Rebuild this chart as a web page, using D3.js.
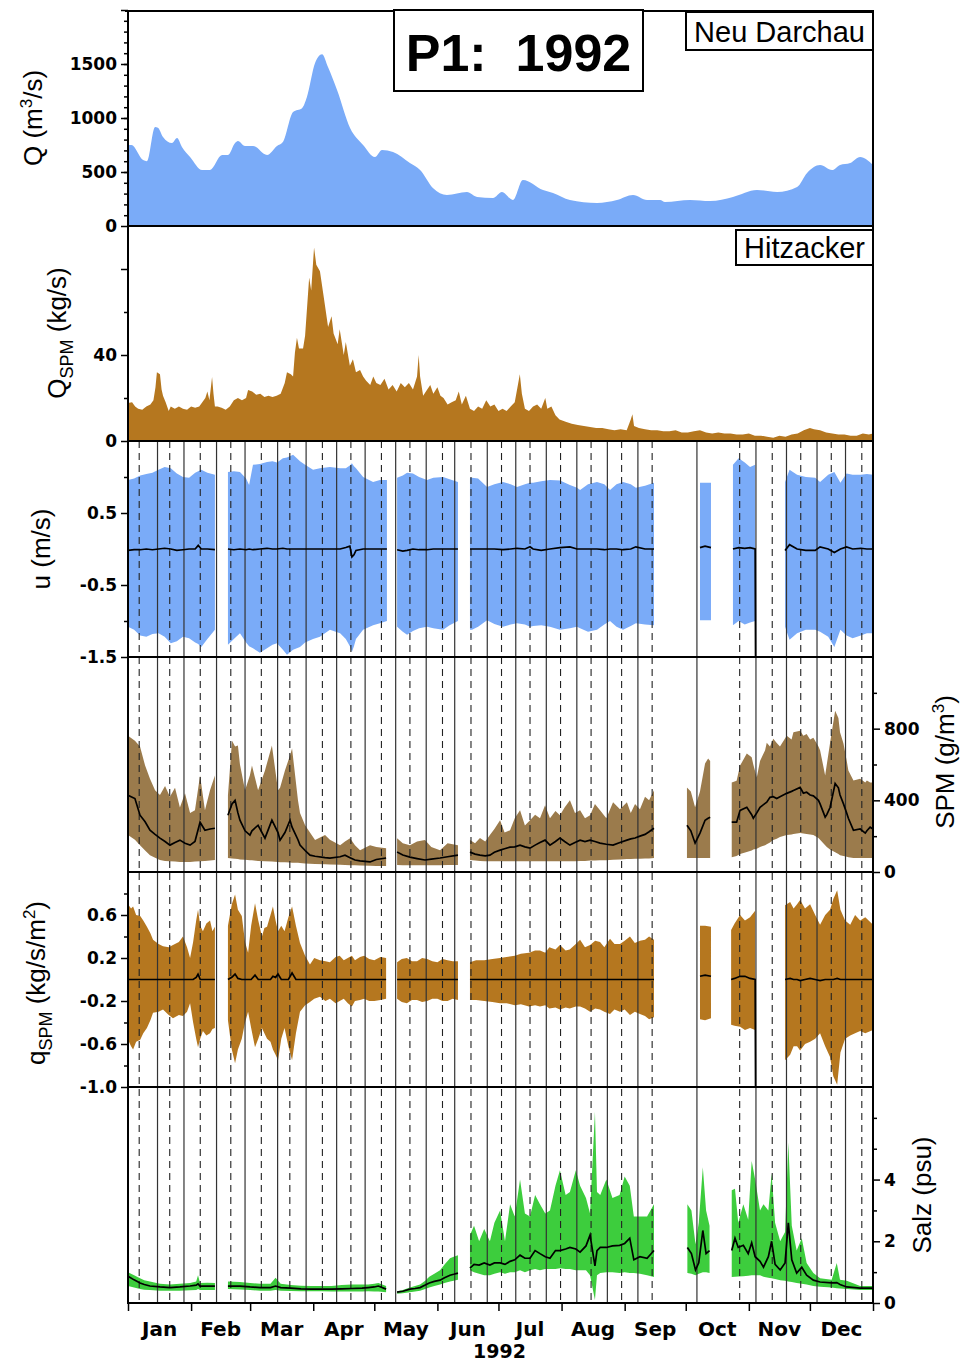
<!DOCTYPE html>
<html><head><meta charset="utf-8">
<script src="https://cdn.jsdelivr.net/npm/d3@7/dist/d3.min.js"></script>
<style>body{margin:0;background:#fff}svg{display:block}text{fill:#000}</style>
</head><body><svg id="c" width="963" height="1363" font-family="'Liberation Sans',Arial,Helvetica,sans-serif"></svg>
<script>
// ---------- DATA (day of year 1992, 0 = 1 Jan) ----------
const months = ["Jan","Feb","Mar","Apr","May","Jun","Jul","Aug","Sep","Oct","Nov","Dec"];
const monthStarts = [0,31,60,91,121,152,182,213,244,274,305,335,366];
const yearLabel = "1992";
// spring tides (dashed) and neap tides (solid)
const springDays = [5.5,20.5,35.5,50.5,65.5,79.5,95.5,109.5,124.5,138.5,154.5,168.5,183.5,197.5,212.5,227.5,242.5,257.5,300.5,316.5,330.5,345.5,360.5];
const neapDays = [14.5,27.5,43.5,57.5,73.5,87.5,102.5,116.5,131.5,146.5,160.5,176.5,190.5,205.5,220.5,235.5,250.5,279.5,308.5,323.5,338.5,352.5];

// Q Neu Darchau (m3/s)
const qDays = [0,1.7,7.4,9.3,13.3,14.7,17.2,21.6,24.1,26.5,30.5,36.4,40.3,46.2,49.1,52.6,54,57.5,61.4,68.3,73.2,76.1,81.1,85.5,87.9,91.9,95.3,98.3,102.7,109.1,115.5,121.3,124.8,130.2,138.5,143.5,149.8,156.7,166.5,171.5,179.3,183.7,189.1,194,203.9,208.8,217.1,230.4,240.2,248.1,255,261.4,263.8,276.1,286,297.2,309,318.9,328.7,333.6,340,345.9,349.8,354.8,359.7,366];
const qVals = [750,750,611,600,917,910,824,768,815,732,639,518,519,657,657,768,787,741,741,657,741,778,1056,1090,1194,1509,1590,1470,1259,907,750,639,704,685,583,518,352,287,315,269,259,315,241,426,333,306,241,213,241,287,241,241,222,241,231,269,333,315,361,491,565,518,565,583,639,565];

// Q_SPM Hitzacker (kg/s): [day, value]
const qspm = [[0,17.7],[2,18],[3.5,16],[5,15],[7,14.5],[9,16],[11,17],[12.5,19],[13.5,25],[14.2,32],[15.7,31],[16.5,24],[17.2,21],[18.5,18],[20,14],[21,16],[23,15],[25,16],[27,15],[29,14.5],[31,16],[33,15.5],[35,16],[36.5,18],[38,20],[39,23],[40,19],[41.3,29.8],[42,22],[42.7,16],[44,16],[46,15.5],[48,14.5],[50,16],[52,19],[54,20],[56,19],[58,20],[59,23.7],[61,23],[63,21.5],[65,22],[67,20.5],[69,21],[71,20.5],[73,21],[75,22],[77,27],[78.1,32],[80,31],[81.1,30],[82,41],[83,48],[84,43],[86,43],[87,49],[89,76],[90,70],[91.4,90],[92.5,82],[94.3,79],[96,68],[98.3,53],[100,58],[101,50],[103,45],[104,52],[106,40],[107,46],[109,35],[110.5,38],[112,32],[114,33],[115.5,30],[117,28],[119,26],[120.5,30],[122,27],[124,26],[126,29],[128,24],[130,26],[132,23],[134,27],[136,25],[138,27],[140,24],[142,30],[142.8,40],[143.5,30],[145,21],[147,24],[148.5,26],[150,22],[152,25],[153.5,21],[155,20],[157,17],[159,18],[161,19],[162.5,23],[164,17],[166,21],[168,15],[170,14],[172,16],[174,15],[176,19],[178,16],[180,17],[182,14],[184,15],[186,14],[188,16],[190,18],[192.5,31],[193.5,22],[195,15],[197,14],[199,16],[201,17],[203,15],[205,20],[206,15],[208,16],[210,12],[212,10],[215,9],[218,8],[221,7.5],[224,7],[227,6.5],[230,6],[233,6],[236,5.5],[239,5],[242,5.5],[245,5],[247,10],[247.8,12.5],[248.6,7],[251,6],[254,5.5],[257,5],[260,5],[263,4.5],[266,4.5],[269,5],[272,4],[275,4],[278,4.5],[281,5],[284,4],[287,3.5],[290,4],[293,3.5],[296,3.5],[299,3],[302,3],[305,3.5],[308,2.5],[311,2.5],[314,2],[317,1.5],[320,2.5],[323,2],[326,3],[329,3.5],[332,5],[335,6],[337,5.5],[340,5],[343,4],[346,3.5],[349,3],[352,3],[355,2.5],[358,2.5],[361,3.5],[364,3],[366,3.5]];

// u (m/s): [day, min, mean, max], null = data gap
const uData = [[0,-1.08,-0.02,0.96],[3,-1.12,-0.01,0.98],[6,-1.20,-0.01,1.02],[9,-1.22,0,1.04],[12,-1.18,-0.01,1.06],[15,-1.17,0,1.10],[18,-1.22,0.01,1.14],[21,-1.31,0,1.12],[24,-1.28,-0.02,1.05],[27,-1.22,-0.01,1.00],[30,-1.24,0,0.99],[33,-1.30,0,1.06],[34.5,-1.32,0.05,1.08],[36,-1.36,0,1.10],[39,-1.25,0,1.06],[42.7,-1.12,-0.01,1.03],null,
[49.1,-1.33,0,1.07],[52,-1.25,-0.01,1.08],[55,-1.17,0,1.07],[58,-1.30,-0.01,0.98],[59.5,-1.35,0,0.89],[61.4,-1.38,-0.01,1.17],[64.8,-1.44,0,1.18],[68.3,-1.38,0.01,1.21],[71,-1.33,0,1.22],[73.2,-1.31,0,1.20],[76.1,-1.40,0.01,1.26],[78.1,-1.47,0,1.27],[81.1,-1.40,0,1.31],[84.5,-1.36,0,1.22],[87,-1.30,0,1.17],[90.9,-1.25,0,1.10],[94.3,-1.22,0,1.12],[99.2,-1.12,0,1.14],[104.2,-1.17,0,1.12],[107,-1.25,0.02,1.12],[109,-1.35,0.04,1.16],[110,-1.43,-0.11,1.19],[111,-1.35,-0.08,1.15],[112,-1.25,-0.02,1.12],[115.5,-1.12,0,1.00],[120.4,-1.06,0,0.93],[123.8,-1.03,0,0.96],[127.2,-1.00,0,0.96],null,
[132.2,-1.08,-0.01,0.99],[135,-1.15,-0.03,1.02],[137.1,-1.19,-0.02,1.06],[140,-1.14,0,1.05],[143,-1.10,-0.01,1.00],[146.9,-1.08,-0.01,0.96],[150,-1.10,0,0.99],[154.8,-1.12,0,1.00],[158,-1.06,0,0.97],[162.1,-1.00,0,0.93],null,
[168,-1.12,0,0.99],[169,-1.12,0,0.99],[172,-1.08,0,0.98],[176.4,-0.99,0,0.86],[180,-1.04,0,0.90],[184.2,-1.08,-0.01,0.93],[188,-1.05,0,0.90],[191.1,-1.03,0.01,0.86],[195,-1.05,0,0.90],[197.5,-1.08,0.03,0.92],[199,-1.07,0,0.92],[203,-1.06,-0.02,0.94],[207.3,-1.08,0,0.96],[212.2,-1.12,0.02,0.95],[217.1,-1.10,0.03,0.89],[220.6,-1.08,0,0.85],[222.1,-1.10,0,0.82],[226,-1.15,0,0.90],[230.4,-1.12,0,0.93],[234,-1.05,-0.01,0.90],[236.8,-1.00,0,0.82],[240,-1.08,0,0.90],[243.2,-1.12,-0.01,0.93],[247,-1.07,0,0.90],[249.5,-1.03,0.03,0.85],[254,-1.05,0,0.88],[258.4,-1.06,0,0.92],null,
[281,-0.99,0.02,0.92],[283.5,-0.99,0.04,0.92],[286.4,-0.99,0.02,0.92],null,
[297.2,-1.06,0,1.17],[300,-1.00,0.02,1.26],[303,-1.05,0.01,1.20],[305.6,-1.02,0.02,1.14],[308.1,-1.00,0,1.17],[308.3,null,-1.5,null],null,
[322.8,-1.08,-0.02,0.93],[325,-1.26,0.06,1.10],[328.7,-1.17,0,1.03],[333,-1.12,-0.02,1.00],[337.6,-1.12,-0.02,0.99],[340,-1.15,0.03,0.93],[344,-1.22,0,1.03],[347,-1.36,-0.05,1.07],[350,-1.12,0,0.92],[353,-1.20,0.03,1.05],[356,-1.24,0,1.03],[360,-1.20,0.01,1.03],[363,-1.17,0,1.04],[366,-1.17,0,1.03]];

// SPM (g/m3): [day, min, mean, max]
const spmData = [[0,206,428,761],[3.4,180,410,733],[5.9,150,317,700],[8.4,120,280,594],[10.8,94,233,520],[13.3,80,210,456],[15.7,67,189,430],[18.2,62,170,480],[20.6,60,150,420],[23.1,58,165,470],[25.5,56,178,360],[28,56,160,440],[30.5,56,150,330],[32.9,58,170,344],[35.4,60,278,539],[37.8,62,233,344],[40.3,64,240,456],[42.7,67,244,539],null,
[49.1,78,317,428],[51.1,76,380,733],[52.6,74,400,700],[54,72,330,706],[55,70,289,600],[57.5,68,230,456],[59.9,66,206,540],[60.9,65,230,594],[63.9,62,261,456],[67.3,60,189,567],[70.7,58,289,706],[73.7,56,220,456],[74.7,55,178,470],[77.1,54,220,567],[79.6,53,289,650],[80.6,52,250,689],[83.5,51,180,400],[84.5,50,150,330],[87,48,120,261],[89.4,46,94,220],[91.9,45,88,178],[96.8,43,80,206],[99.2,42,78,180],[104.2,40,85,150],[106.6,39,94,170],[109.1,38,80,189],[111.5,37,67,150],[114,36,62,122],[118.9,35,56,150],[122,34,70,140],[126.8,33,78,133],null,
[132.2,39,111,189],[135,38,95,160],[138.5,38,83,150],[142,37,75,170],[145.9,37,67,178],[149,38,72,140],[153.3,38,78,122],[157,39,85,160],[162.1,39,94,150],null,
[168,67,111,178],[170.5,64,100,160],[172.9,62,94,190],[175.5,60,90,170],[177.8,60,94,206],[180,60,110,240],[182.8,60,122,289],[185,60,130,220],[187.7,60,139,233],[190,60,140,300],[192.6,60,150,344],[195,60,140,260],[197.5,60,133,289],[200,60,150,320],[202.4,60,165,300],[204.9,60,178,372],[207.3,60,150,300],[210,60,170,340],[212.2,60,189,317],[214.5,60,170,360],[217.1,60,150,400],[219.6,60,165,330],[222.1,62,178,344],[224.5,62,170,300],[227,64,178,317],[229.4,64,170,380],[231.9,66,161,344],[235,66,155,300],[238.3,68,150,389],[241.7,70,165,350],[245.1,72,178,389],[247,72,185,330],[249.1,74,190,380],[251.5,74,200,350],[254,76,210,420],[256,76,225,400],[258.4,78,244,456],null,
[274.6,78,261,472],[276.5,78,230,450],[278.6,78,161,361],[281,78,217,450],[283.5,78,289,606],[285,78,300,633],[286,78,306,620],null,
[296.6,83,278,500],[299,90,278,510],[300.7,100,344,594],[304,111,361,661],[306.4,120,320,640],[307.2,125,300,600],[308.9,130,330,528],[310.5,139,361,620],[313,150,383,680],[313.8,155,390,722],[315.4,165,417,700],[317,178,420,744],[318.7,185,410,720],[320.3,195,420,700],[323.6,206,439,761],[326,210,450,740],[326.9,212,455,780],[330.2,217,472,789],[331.8,215,440,760],[333.4,212,445,770],[335.1,210,430,740],[336.7,206,425,750],[339.2,190,400,700],[340,180,380,680],[342.5,150,306,539],[343.3,139,320,600],[344.9,125,360,720],[347.4,110,494,900],[349,100,470,860],[349.8,94,430,780],[351.5,90,380,717],[353.1,85,328,620],[353.9,82,300,567],[356.4,78,233,511],[359.7,78,240,520],[362.2,78,217,500],[363,78,230,511],[364.6,78,250,500],[366,78,240,500]];

// q_SPM (kg/s/m2): [day, min, mean, max]
const qsData = [[0,-0.56,0,0.70],[1.5,-0.62,0,0.66],[2.5,-0.65,0,0.68],[4,-0.58,0,0.60],[6,-0.56,0,0.59],[7.5,-0.50,0,0.55],[9.3,-0.45,0,0.49],[11,-0.38,0,0.43],[12.3,-0.31,0,0.37],[15,-0.30,0,0.33],[17.2,-0.28,0,0.31],[20,-0.33,0,0.30],[22.1,-0.36,0,0.32],[25,-0.33,0,0.35],[27,-0.34,0,0.40],[29,-0.30,0,0.30],[30.5,-0.22,0,0.20],[32,-0.40,0,0.35],[33.5,-0.55,0.02,0.55],[34.4,-0.63,0.05,0.65],[35.5,-0.55,0,0.50],[36.8,-0.48,0,0.45],[38.5,-0.52,0,0.52],[40.3,-0.50,0,0.55],[41.5,-0.46,0,0.45],[42.7,-0.45,0,0.49],null,
[49.1,-0.38,0,0.50],[51,-0.65,0.02,0.70],[52.6,-0.78,0.05,0.79],[54,-0.65,0.01,0.65],[55.9,-0.55,0,0.59],[57.5,-0.40,0,0.35],[59,-0.30,0,0.25],[60.5,-0.45,0,0.50],[62.4,-0.63,0.04,0.71],[64,-0.55,0,0.55],[65.8,-0.45,0,0.40],[67,-0.50,0,0.48],[68.3,-0.55,0,0.49],[70,-0.58,0,0.60],[71.2,-0.65,0.03,0.68],[72.5,-0.70,0.02,0.55],[73.7,-0.75,0.05,0.45],[75.3,-0.55,0,0.50],[76.9,-0.45,0,0.45],[78.8,-0.62,0,0.58],[80.6,-0.75,0.06,0.68],[82.5,-0.50,0,0.50],[84.5,-0.30,0,0.34],[87,-0.24,0,0.22],[89.4,-0.21,0,0.14],[91.5,-0.18,0,0.20],[94.3,-0.16,0,0.18],[97,-0.20,0,0.17],[99.2,-0.18,0,0.16],[102,-0.22,0,0.21],[104,-0.20,0,0.22],[106,-0.18,0,0.18],[108,-0.22,0,0.20],[110,-0.25,0,0.22],[111.5,-0.20,0,0.18],[114,-0.19,0,0.21],[116,-0.18,0,0.22],[118.5,-0.20,0,0.19],[121,-0.20,0,0.18],[124,-0.19,0,0.21],[126.8,-0.18,0,0.20],null,
[132.2,-0.18,0,0.16],[134.5,-0.21,0,0.19],[137,-0.22,0,0.20],[139.5,-0.19,0,0.17],[142,-0.19,0,0.17],[144.5,-0.21,0,0.20],[147,-0.20,0,0.19],[149.5,-0.18,0,0.17],[152,-0.18,0,0.16],[154.5,-0.20,0,0.19],[157,-0.20,0,0.18],[159.5,-0.18,0,0.17],[162.1,-0.19,0,0.17],null,
[168,-0.19,0,0.16],[171,-0.19,0,0.18],[175,-0.20,0,0.18],[179,-0.21,0,0.19],[182.8,-0.22,0,0.20],[186,-0.22,0,0.21],[190,-0.24,0,0.22],[193,-0.23,0,0.24],[197,-0.25,0,0.25],[200,-0.24,0,0.27],[202.4,-0.25,0,0.27],[205,-0.24,0,0.25],[207,-0.27,0,0.30],[210,-0.26,0,0.28],[212.2,-0.28,0,0.32],[215,-0.26,0,0.27],[217,-0.27,0,0.28],[220,-0.25,0,0.33],[222.1,-0.25,0,0.37],[224.5,-0.27,0,0.30],[227,-0.30,0,0.32],[229.5,-0.27,0,0.36],[231.9,-0.28,0,0.35],[234,-0.30,0,0.30],[236.8,-0.32,0,0.38],[239,-0.28,0,0.33],[241.7,-0.30,0,0.33],[244,-0.28,0,0.36],[246.6,-0.33,0,0.40],[249,-0.30,0,0.34],[251.5,-0.32,0,0.36],[254,-0.34,0,0.37],[256,-0.37,0,0.40],[258.4,-0.35,0,0.37],null,
[281,-0.37,0.03,0.50],[283.5,-0.38,0.04,0.50],[286.4,-0.36,0.03,0.49],null,
[296.3,-0.42,0,0.46],[298,-0.43,0.01,0.52],[300.7,-0.44,0.03,0.60],[303.1,-0.47,0.03,0.55],[305.6,-0.45,0.01,0.58],[308.1,-0.47,0,0.64],[308.3,null,-1.0,null],null,
[322.8,-0.75,0,0.69],[325.3,-0.70,0.01,0.72],[327,-0.62,0,0.66],[328.7,-0.62,0,0.70],[330.2,-0.66,-0.01,0.74],[332.6,-0.60,0,0.66],[335.1,-0.58,0.01,0.70],[337.6,-0.55,0,0.60],[340,-0.50,-0.01,0.51],[342.5,-0.62,0,0.60],[344.9,-0.72,0,0.65],[346.5,-0.90,0,0.75],[348.4,-0.98,0.01,0.83],[350,-0.68,0,0.65],[352.3,-0.55,0,0.55],[354.8,-0.52,0,0.51],[357.2,-0.50,0,0.60],[359.7,-0.48,0,0.55],[362.2,-0.50,0,0.58],[366,-0.47,0,0.51]];

// Salz (psu): [day, min, mean, max]
const salzData = [[0,0.55,0.87,1.0],[3,0.50,0.75,0.90],[5.9,0.45,0.65,0.80],[8,0.43,0.6,0.74],[10.8,0.42,0.55,0.70],[15.7,0.40,0.52,0.62],[20.6,0.40,0.50,0.60],[25.5,0.40,0.52,0.62],[30.5,0.41,0.55,0.65],[33.5,0.42,0.58,0.70],[34.4,0.45,0.62,0.90],[35.4,0.42,0.55,0.65],[39,0.42,0.55,0.66],[42.7,0.42,0.55,0.65],null,
[49.1,0.45,0.55,0.70],[55,0.44,0.55,0.68],[60,0.42,0.52,0.65],[65,0.40,0.50,0.62],[70,0.40,0.50,0.62],[72.5,0.42,0.55,0.82],[75,0.40,0.50,0.62],[80,0.39,0.48,0.58],[85,0.38,0.46,0.56],[90,0.38,0.45,0.55],[95,0.38,0.45,0.55],[100,0.37,0.45,0.55],[105,0.37,0.46,0.58],[110,0.37,0.47,0.60],[115,0.37,0.48,0.60],[118,0.38,0.50,0.60],[121,0.37,0.52,0.62],[123,0.37,0.55,0.65],[126.8,0.35,0.45,0.55],null,
[132.2,0.30,0.35,0.38],[135,0.32,0.38,0.42],[138.5,0.35,0.45,0.50],[141,0.37,0.47,0.55],[143.5,0.40,0.50,0.60],[146,0.45,0.58,0.72],[148,0.50,0.65,0.85],[150.5,0.55,0.70,0.95],[153.3,0.60,0.74,1.06],[155.5,0.65,0.82,1.25],[158.2,0.70,0.90,1.45],[160,0.72,0.93,1.50],[162.1,0.75,0.97,1.55],null,
[168,1.06,1.13,2.2],[170,1.0,1.25,2.5],[172.5,0.95,1.23,2.0],[175,0.9,1.3,2.4],[177.8,0.9,1.23,2.0],[180,0.95,1.3,2.6],[182.8,1.0,1.3,3.0],[185.2,0.95,1.25,2.0],[187.7,1.0,1.35,3.2],[190,1.0,1.4,2.8],[192.6,1.06,1.55,4.0],[195,1.0,1.45,2.9],[197.5,1.06,1.45,2.8],[200,1.1,1.7,3.5],[202.4,1.06,1.6,3.2],[205,1.1,1.5,2.9],[207.3,1.1,1.45,3.0],[210,1.1,1.7,3.8],[212.2,1.13,1.7,4.3],[215,1.1,1.75,3.5],[217.1,1.1,1.8,3.6],[220,1.06,1.75,4.3],[222.1,1.06,1.65,3.8],[225,1.06,1.85,3.4],[227,0.9,2.2,2.9],[229.4,0.1,1.2,6.2],[230.4,0.9,1.7,3.6],[232,0.97,1.8,3.5],[235,1.0,1.8,4.0],[238,1.0,1.85,3.4],[241.5,0.97,1.87,3.5],[244,1.0,1.93,4.1],[246.5,0.97,2.1,3.8],[248.5,0.97,1.4,2.8],[251.5,0.95,1.5,2.8],[255,0.9,1.45,2.8],[258.4,0.84,1.7,3.2],null,
[274.8,0.97,1.8,3.2],[276.8,0.95,1.6,3.0],[278.8,0.9,1.07,1.9],[280.4,0.95,1.3,2.6],[282.4,1.0,2.35,4.4],[284,1.0,1.6,3.0],[285.7,0.97,1.7,2.5],null,
[296.6,0.84,1.7,3.65],[298.2,0.85,2.1,3.7],[299.8,0.86,1.8,2.6],[302.3,0.87,1.87,3.2],[304.7,0.88,1.6,2.7],[306.4,0.9,1.95,4.6],[308.1,0.9,1.5,4.0],[310.5,0.9,1.35,3.0],[312.2,0.85,1.16,3.2],[314.6,0.82,1.5,3.0],[316.2,0.8,2.0,4.2],[317.9,0.78,1.25,2.6],[320.4,0.74,1.07,2.0],[322.8,0.72,1.3,2.3],[324.4,0.7,2.6,5.2],[326.1,0.68,1.4,2.5],[328.5,0.65,0.97,1.7],[331,0.62,1.16,2.1],[333.4,0.6,0.9,1.3],[336.7,0.55,0.74,0.97],[340,0.53,0.68,0.8],[345.7,0.5,0.65,0.75],[348.2,0.48,0.66,1.3],[349.8,0.47,0.6,0.75],[353.1,0.45,0.52,0.72],[359.7,0.42,0.48,0.55],[366,0.42,0.48,0.55]];

// ---------- DRAWING ----------
const svg = d3.select("#c");
const X0 = 128, X1 = 873;
const TICKFONT = "'DejaVu Sans',Verdana,sans-serif";
const x = d3.scaleLinear().domain([0,366]).range([X0,X1]);
const P = [
  {key:"q",   top:10,   bot:226,  dom:[0,2000]},
  {key:"qs",  top:226,  bot:441,  dom:[0,100]},
  {key:"u",   top:441,  bot:657,  dom:[-1.5,1.5]},
  {key:"spm", top:657,  bot:872,  dom:[0,1200]},
  {key:"q2",  top:872,  bot:1087, dom:[-1,1]},
  {key:"sal", top:1087, bot:1303, dom:[0,7]}
];
P.forEach(p => p.y = d3.scaleLinear().domain(p.dom).range([p.bot,p.top]));
const Y = Object.fromEntries(P.map(p=>[p.key,p.y]));

const defs = svg.append("defs");
P.forEach(p => defs.append("clipPath").attr("id","clip-"+p.key)
  .append("rect").attr("x",X0).attr("y",p.top).attr("width",X1-X0).attr("height",p.bot-p.top));

const BLUE = "#7aabf8", ORANGE = "#b5771f", SPMC = "#9b7b4c", GREEN = "#3dcd3d";

// Q area
svg.append("path").attr("clip-path","url(#clip-q)")
  .attr("d", d3.area().curve(d3.curveMonotoneX).x((d,i)=>x(qDays[i])).y0(Y.q(0)).y1((d,i)=>Y.q(qVals[i]))(qVals))
  .attr("fill", BLUE);
// Q_SPM area
svg.append("path").attr("clip-path","url(#clip-qs)")
  .attr("d", d3.area().x(d=>x(d[0])).y0(Y.qs(0)).y1(d=>Y.qs(d[1]))(qspm))
  .attr("fill", ORANGE);

function envelope(data, key, color){
  const y = Y[key];
  svg.append("path").attr("clip-path","url(#clip-"+key+")")
    .attr("d", d3.area().defined(d=>d && d[1]!=null && d[3]!=null)
      .x(d=>x(d[0])).y0(d=>y(d[1])).y1(d=>y(d[3]))(data))
    .attr("fill", color);
}
envelope(uData,"u",BLUE);
envelope(spmData,"spm",SPMC);
envelope(qsData,"q2",ORANGE);
envelope(salzData,"sal",GREEN);

// tide lines
const vtop = 441, vbot = 1303;
svg.append("g").selectAll("line").data(neapDays).join("line")
  .attr("x1",d=>x(d)).attr("x2",d=>x(d)).attr("y1",vtop).attr("y2",vbot)
  .attr("stroke","#333").attr("stroke-width",1.2);
svg.append("g").selectAll("line").data(springDays).join("line")
  .attr("x1",d=>x(d)).attr("x2",d=>x(d)).attr("y1",vtop).attr("y2",vbot)
  .attr("stroke","#222").attr("stroke-width",1.1).attr("stroke-dasharray","7,5");

function meanLine(data, key){
  const y = Y[key];
  svg.append("path").attr("clip-path","url(#clip-"+key+")")
    .attr("d", d3.line().defined(d=>d && d[2]!=null).x(d=>x(d[0])).y(d=>y(d[2]))(data))
    .attr("fill","none").attr("stroke","#000").attr("stroke-width",1.7);
}
meanLine(uData,"u"); meanLine(spmData,"spm"); meanLine(qsData,"q2"); meanLine(salzData,"sal");

// frame
const frame = svg.append("g").attr("stroke","#000").attr("stroke-width",2);
P.forEach(p => frame.append("line").attr("x1",X0).attr("x2",X1).attr("y1",p.bot).attr("y2",p.bot));
frame.append("line").attr("x1",X0-3).attr("x2",X1).attr("y1",11).attr("y2",11);
frame.append("line").attr("x1",X0).attr("x2",X0).attr("y1",10).attr("y2",1304);
frame.append("line").attr("x1",X1).attr("x2",X1).attr("y1",10).attr("y2",1304);

// axes
const fmtInt = d => String(d);
const fmt1 = d => d.toFixed(1);
function yAxis(key, side, major, labeled, minor, fmt){
  const y = Y[key];
  const mk = side==="left" ? d3.axisLeft : d3.axisRight;
  const xpos = side==="left" ? X0 : X1;
  const gMin = svg.append("g").attr("transform",`translate(${xpos},0)`)
    .call(mk(y).tickValues(minor).tickSize(4).tickFormat(""));
  const gMaj = svg.append("g").attr("transform",`translate(${xpos},0)`)
    .call(mk(y).tickValues(major).tickSize(7).tickPadding(4)
      .tickFormat(d => labeled.includes(d) ? fmt(d) : ""));
  [gMin,gMaj].forEach(g=>{
    g.attr("font-family",null).attr("font-size",null);
    g.select(".domain").remove();
    g.selectAll("line").attr("stroke","#000").attr("stroke-width",1.5);
    g.selectAll("text").style("font-size","17px").style("font-weight","bold")
      .style("font-family",TICKFONT).attr("fill","#000");
  });
}
yAxis("q","left",[0,500,1000,1500,2000],[0,500,1000,1500],d3.range(100,2000,100),fmtInt);
yAxis("qs","left",[0,40,80],[0,40],[20,60],fmtInt);
yAxis("u","left",[-1.5,-0.5,0.5],[-1.5,-0.5,0.5],[-1,1],fmt1);
yAxis("spm","right",[0,400,800],[0,400,800],[200,600,1000],fmtInt);
yAxis("q2","left",[-1,-0.6,-0.2,0.2,0.6],[-1,-0.6,-0.2,0.2,0.6],[-0.8,-0.4,0.4,0.8],fmt1);
yAxis("sal","right",[0,2,4],[0,2,4],[1,3,5,6],fmtInt);

// x axis
const gx = svg.append("g").attr("transform","translate(0,1303)")
  .call(d3.axisBottom(x).tickValues(monthStarts).tickSize(8).tickFormat(""));
gx.select(".domain").remove();
gx.selectAll("line").attr("stroke","#000").attr("stroke-width",1.5);
svg.append("g").selectAll("text").data(months).join("text")
  .attr("x",(d,i)=>x((monthStarts[i]+monthStarts[i+1])/2)).attr("y",1336)
  .attr("text-anchor","middle").style("font-size","20px").style("font-weight","bold")
  .style("font-family",TICKFONT).text(d=>d);
svg.append("text").attr("x",x(182.5)).attr("y",1358).attr("text-anchor","middle")
  .style("font-size","19px").style("font-weight","bold").style("font-family",TICKFONT).text(yearLabel);

// axis titles
function vtitle(cx, cy, parts, size){
  const t = svg.append("text").attr("transform",`translate(${cx},${cy}) rotate(-90)`)
    .attr("text-anchor","middle").attr("font-size",size);
  parts.forEach(p => {
    const s = t.append("tspan").text(p.t);
    if (p.dy) s.attr("dy",p.dy);
    if (p.fs) s.attr("font-size",p.fs);
  });
}
vtitle(42,118,[{t:"Q (m"},{t:"3",dy:-10,fs:17},{t:"/s)",dy:10}],26);
vtitle(66,333,[{t:"Q"},{t:"SPM",dy:7,fs:18},{t:"  (kg/s)",dy:-7}],26);
vtitle(50,549,[{t:"u (m/s)"}],26);
vtitle(45,983,[{t:"q"},{t:"SPM",dy:7,fs:18},{t:" (kg/s/m",dy:-7},{t:"2",dy:-10,fs:17},{t:")",dy:10}],26);
vtitle(954,762,[{t:"SPM (g/m"},{t:"3",dy:-10,fs:17},{t:")",dy:10}],26);
vtitle(931,1195,[{t:"Salz (psu)"}],26);

// boxes
function box(x0,y0,w,h,txt,size,bold,ty){
  svg.append("rect").attr("x",x0).attr("y",y0).attr("width",w).attr("height",h)
    .attr("fill","#fff").attr("stroke","#000").attr("stroke-width",2);
  svg.append("text").attr("x",x0+w/2).attr("y",ty).attr("text-anchor","middle")
    .attr("font-size",size).attr("font-weight",bold?"bold":"normal")
    .style("white-space","pre").text(txt);
}
box(394,10,249,81,"P1:  1992",52,true,71);
box(686,12,187,38,"Neu Darchau",29,false,42);
box(736,230,137,35,"Hitzacker",29,false,258);
</script></body></html>
